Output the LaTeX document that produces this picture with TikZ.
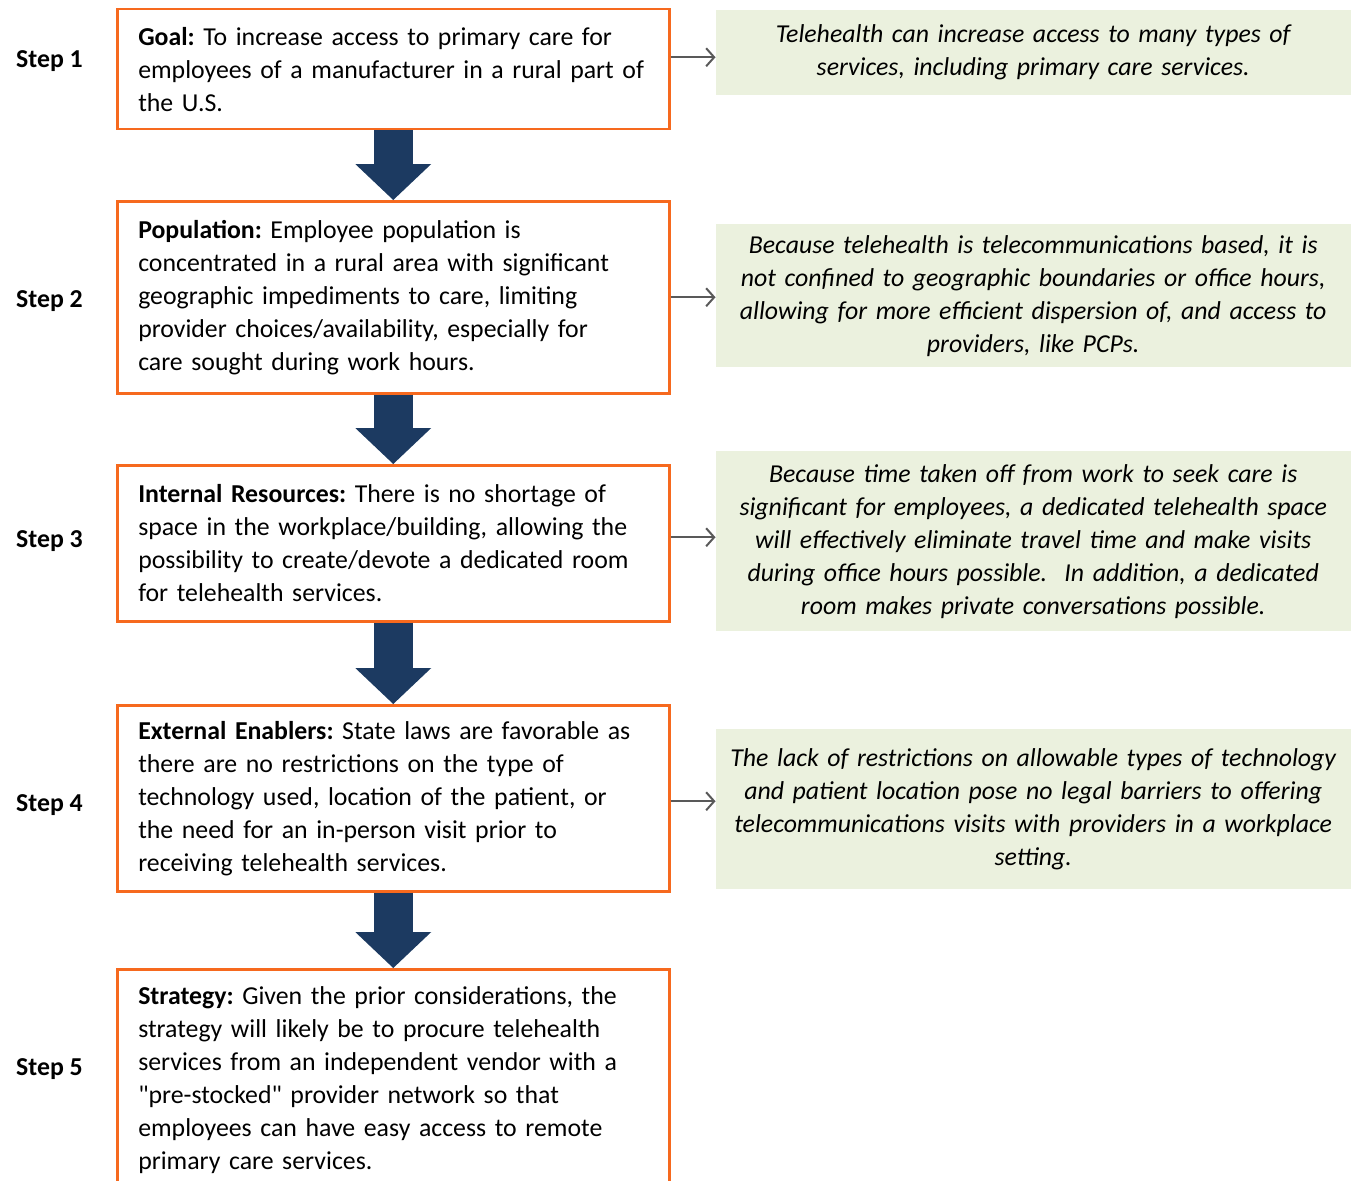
\documentclass[tikz,border=0pt]{standalone}
\usepackage{fontspec}
\setmainfont{Carlito}
\frenchspacing
\usetikzlibrary{positioning, arrows.meta}
\definecolor{boxorange}{HTML}{F6691E}
\definecolor{notegreen}{HTML}{EBF1DE}
\definecolor{flownavy}{HTML}{1C3A61}
\definecolor{pointgray}{HTML}{595959}
\tikzset{
	stepbox/.style={draw=boxorange, line width=2.5pt, rectangle, inner xsep=21pt, inner ysep=0pt, text width=510pt, align=left, font=\fontsize{25.8pt}{33pt}\selectfont},
	note/.style={rectangle, fill=notegreen, inner xsep=5pt, inner ysep=0pt, text width=625pt, align=center, font=\fontsize{25.8pt}{33pt}\selectfont\itshape},
	% step labels left of the boxes
	steplabel/.style={inner sep=0pt, font=\fontsize{25.8pt}{33pt}\selectfont\bfseries},
}

\begin{document}
\begin{tikzpicture}
		\useasboundingbox (0,0) rectangle (1351pt,-1180pt);
		
		\node (goal) [stepbox, minimum height=120pt, anchor=north west] at (116pt,-8pt) {\textbf{Goal:} To increase access to primary care for\\employees of a manufacturer in a rural part of\\the U.S.};
		
		\node (pop) [stepbox, minimum height=192pt, below=69.5pt of goal] {\textbf{Population:} Employee population is\\concentrated in a rural area with significant\\geographic impediments to care, limiting\\provider choices/availability, especially for\\care sought during work hours.};
		
		\node (res) [stepbox, minimum height=156pt, below=69.5pt of pop] {\textbf{Internal Resources:} There is no shortage of\\space in the workplace/building, allowing the\\possibility to create/devote a dedicated room\\for telehealth services.};
		
		\node (ena) [stepbox, minimum height=186pt, below=81.5pt of res] {\textbf{External Enablers:} State laws are favorable as\\there are no restrictions on the type of\\technology used, location of the patient, or\\the need for an in-person visit prior to\\receiving telehealth services.};
		
		\node (strat) [stepbox, minimum height=222pt, below=75.5pt of ena] {\textbf{Strategy:} Given the prior considerations, the\\strategy will likely be to procure telehealth\\services from an independent vendor with a\\\textquotedbl pre-stocked\textquotedbl{} provider network so that\\employees can have easy access to remote\\primary care services.};
		
		\node (s1) [steplabel, left=33pt of goal, yshift=8pt] {Step 1};
		\node (s2) [steplabel, left=33pt of pop, yshift=-4pt] {Step 2};
		\node (s3) [steplabel, left=33pt of res, yshift=2pt] {Step 3};
		\node (s4) [steplabel, left=33pt of ena, yshift=-7pt] {Step 4};
		\node (s5) [steplabel, left=33pt of strat, yshift=11pt] {Step 5};
		
		\node (gn1) [note, minimum height=85pt, right=45pt of goal.north east, anchor=north west, yshift=-2pt] {Telehealth can increase access to many types of\\services, including primary care services.};
		
		\node (gn2) [note, minimum height=143pt, right=45pt of pop.north east, anchor=north west, yshift=-24pt] {Because telehealth is telecommunications based, it is\\not confined to geographic boundaries or office hours,\\allowing for more efficient dispersion of, and access to\\providers, like PCPs.};
		
		\node (gn3) [note, minimum height=180pt, right=45pt of res.north east, anchor=north west, yshift=13pt] {Because time taken off from work to seek care is\\significant for employees, a dedicated telehealth space\\will effectively eliminate travel time and make visits\\during office hours possible.\ \ In addition, a dedicated\\room makes private conversations possible.};
		
		\node (gn4) [note, minimum height=160pt, right=45pt of ena.north east, anchor=north west, yshift=-25pt] {The lack of restrictions on allowable types of technology\\and patient location pose no legal barriers to offering\\telecommunications visits with providers in a workplace\\setting.};
		
		\begin{scope}[flownavy, line width=39pt, -{Triangle[length=36pt 0 0, width=76pt 0 0, line width=0pt 0 0]}]
			\draw (goal) -- (pop);
			\draw (pop) -- (res);
			\draw (res) -- (ena);
			\draw (ena) -- (strat);
		\end{scope}
		
		\begin{scope}[pointgray, line width=2pt, -{Straight Barb[length=8pt, width=18pt]}]
			\draw ([yshift=12pt]goal.east) -- ([yshift=12pt]goal.east -| gn1.west);
			\draw (pop.east) -- (pop.east -| gn2.west);
			\draw ([yshift=6pt]res.east) -- ([yshift=6pt]res.east -| gn3.west);
			\draw ([yshift=-3pt]ena.east) -- ([yshift=-3pt]ena.east -| gn4.west);
		\end{scope}
\end{tikzpicture}
\end{document}
